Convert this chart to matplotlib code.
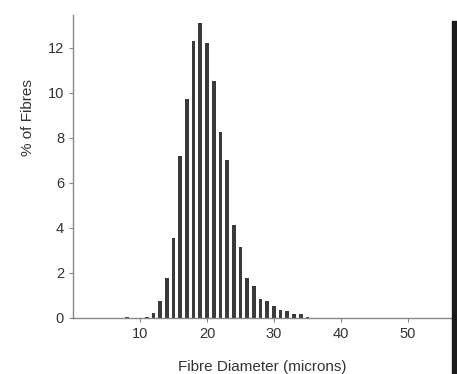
import matplotlib.pyplot as plt
from matplotlib.patches import Rectangle

# fibre diameter bins (microns) and % of fibres
diameters = [8, 11, 12, 13, 14, 15, 16, 17, 18, 19, 20, 21, 22, 23, 24,
             25, 26, 27, 28, 29, 30, 31, 32, 33, 34, 35]
percent = [0.02, 0.05, 0.2, 0.75, 1.77, 3.55, 7.17, 9.7, 12.28, 13.1, 12.2,
           10.5, 8.25, 7.0, 4.13, 3.17, 1.77, 1.42, 0.82, 0.73, 0.52, 0.37,
           0.3, 0.19, 0.18, 0.04]

x_ticks = [10, 20, 30, 40, 50]
y_ticks = [0, 2, 4, 6, 8, 10, 12]

plt.rcParams['font.family'] = ['Liberation Sans', 'DejaVu Sans']

fig = plt.figure(figsize=(4.57, 3.74), dpi=100)
ax = fig.add_axes([0.16, 0.15, 0.829, 0.81])

ax.bar(diameters, percent, width=0.55, color='#3a3a3a')

ax.set_xlim(0, 56.6)
ax.set_ylim(0, 13.45)
ax.set_xticks(x_ticks)
ax.set_yticks(y_ticks)

for side in ['top', 'right']:
    ax.spines[side].set_visible(False)
for side in ['left', 'bottom']:
    ax.spines[side].set_color('#888888')
    ax.spines[side].set_linewidth(1.0)

ax.tick_params(axis='both', colors='#888888', labelcolor='#333333',
               labelsize=10.5, length=3, width=0.8)

ax.set_xlabel('Fibre Diameter (microns)', fontsize=11, color='#333333', labelpad=14)
ax.set_ylabel('% of Fibres', fontsize=11, color='#333333', labelpad=8)
ax.yaxis.set_label_coords(-0.10, 0.66)

# dark scanner edge on the right of the page
fig.patches.append(Rectangle((0.99, 0.0), 0.01, 0.945, transform=fig.transFigure,
                             color='#1a1a1a', zorder=5))

fig.savefig('out.png', dpi=100)
